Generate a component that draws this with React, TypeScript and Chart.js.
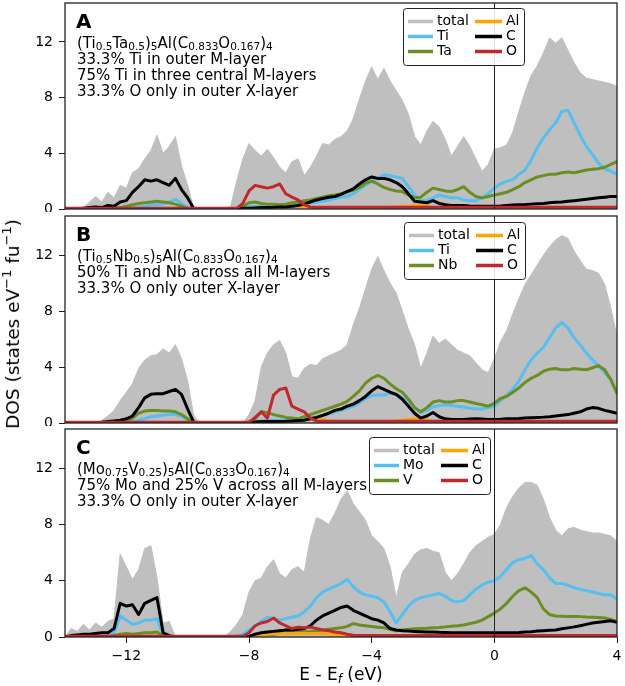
import React, { useEffect, useRef } from "react";
import { Chart, registerables } from "chart.js";

Chart.register(...registerables);

const FONT = "'DejaVu Sans', sans-serif";

// Energy grid, E - Ef in eV (0.2 eV steps from -14 to 4)
const energy: number[] = Array.from({ length: 91 }, (_, i) => Math.round((-14 + 0.2 * i) * 10) / 10);

const xTicks = [-12, -8, -4, 0, 4];
const yTicks = [0, 4, 8, 12];
const yMax = 14.8;

// ---------- Panel A: (Ti0.5Ta0.5)5Al(C0.833O0.167)4 ----------
const totalA = [
  0, 0, 0, 0.1, 0.5, 0.9, 0.5, 1.2, 0.8, 1.7,
  1.5, 2.6, 2.9, 3.6, 4.2, 5.3, 4.0, 4.5, 5.2, 3.1,
  1.7, 0, 0, 0, 0, 0, 0, 0.2, 2.0, 3.6,
  4.7, 4.2, 3.8, 4.3, 3.7, 3.0, 2.6, 3.4, 3.6, 2.4,
  3.0, 3.8, 4.7, 4.6, 5.0, 5.2, 5.6, 6.5, 7.9, 9.2,
  10.2, 9.3, 10.1, 9.2, 8.5, 7.8, 6.8, 5.2, 4.6, 5.6,
  6.3, 5.9, 5.0, 3.8, 4.5, 5.2, 4.5, 3.6, 2.7, 3.2,
  4.3, 4.4, 4.6, 5.5, 7.0, 8.4, 9.6, 10.3, 11.2, 12.3,
  11.9, 12.3, 11.4, 10.5, 9.8, 9.4, 9.3, 9.2, 9.1, 9.0,
  8.8,
];
const tiA = [
  0, 0, 0, 0, 0, 0, 0, 0, 0, 0.02,
  0.05, 0.1, 0.15, 0.2, 0.3, 0.3, 0.35, 0.5, 0.7, 0.4,
  0.1, 0, 0, 0, 0, 0, 0, 0, 0.05, 0.1,
  0.2, 0.2, 0.2, 0.2, 0.2, 0.25, 0.3, 0.3, 0.35, 0.4,
  0.45, 0.5, 0.55, 0.65, 0.75, 0.85, 0.9, 1.1, 1.4, 1.7,
  2.0, 2.2, 2.45, 2.4, 2.3, 2.2, 1.6, 1.0, 0.6, 0.6,
  0.8, 1.0, 0.9, 0.8, 0.8, 0.65, 0.6, 0.6, 0.8, 1.1,
  1.5, 1.8, 2.0, 2.1, 2.5, 2.8, 3.5, 4.4, 5.1, 5.7,
  6.2, 7.0, 7.1, 6.2, 5.3, 4.5, 3.9, 3.3, 2.9, 2.7,
  2.5,
];
const taA = [
  0, 0, 0, 0, 0, 0, 0, 0, 0.05, 0.1,
  0.2, 0.3, 0.4, 0.45, 0.5, 0.55, 0.5, 0.45, 0.35, 0.2,
  0.05, 0, 0, 0, 0, 0, 0, 0, 0.05, 0.2,
  0.45, 0.5, 0.4, 0.35, 0.35, 0.3, 0.35, 0.45, 0.5, 0.6,
  0.65, 0.75, 0.85, 0.95, 1.0, 1.1, 1.25, 1.35, 1.55, 1.85,
  2.0, 1.8, 1.55, 1.4, 1.3, 1.25, 1.0, 0.8, 0.85, 1.2,
  1.5, 1.4, 1.3, 1.25, 1.4, 1.6, 1.2, 0.9, 0.8, 0.9,
  1.0, 1.1, 1.2, 1.4, 1.6, 1.9, 2.1, 2.3, 2.4, 2.5,
  2.5, 2.6, 2.65, 2.6, 2.7, 2.8, 2.85, 2.9, 3.0, 3.2,
  3.4,
];
const alA = [
  0, 0, 0, 0.02, 0.02, 0.02, 0.02, 0.02, 0.02, 0.02,
  0.02, 0.03, 0.03, 0.03, 0.03, 0.03, 0.03, 0.03, 0.03, 0.02,
  0.02, 0, 0, 0, 0, 0, 0, 0, 0.02, 0.03,
  0.05, 0.05, 0.05, 0.06, 0.08, 0.1, 0.15, 0.2, 0.2, 0.15,
  0.1, 0.08, 0.08, 0.08, 0.08, 0.1, 0.1, 0.1, 0.1, 0.1,
  0.1, 0.1, 0.1, 0.12, 0.15, 0.18, 0.2, 0.25, 0.25, 0.2,
  0.1, 0.08, 0.06, 0.05, 0.05, 0.05, 0.05, 0.05, 0.05, 0.05,
  0.05, 0.05, 0.05, 0.05, 0.05, 0.05, 0.05, 0.05, 0.05, 0.05,
  0.05, 0.05, 0.05, 0.05, 0.05, 0.05, 0.05, 0.05, 0.05, 0.05,
  0.05,
];
const cA = [
  0, 0, 0, 0.05, 0.1, 0.15, 0.1, 0.25, 0.2, 0.5,
  0.6, 1.2, 1.6, 2.1, 2.0, 2.1, 1.9, 1.7, 2.2, 1.4,
  0.8, 0.02, 0, 0, 0, 0, 0, 0.02, 0.03, 0.05,
  0.05, 0.08, 0.1, 0.1, 0.12, 0.15, 0.15, 0.2, 0.25, 0.35,
  0.5, 0.65, 0.75, 0.85, 0.9, 1.05, 1.25, 1.45, 1.8, 2.1,
  2.3, 2.2, 2.2, 2.1, 1.9, 1.6, 1.1, 0.55, 0.5, 0.45,
  0.6, 0.4, 0.3, 0.25, 0.25, 0.25, 0.22, 0.2, 0.2, 0.2,
  0.2, 0.22, 0.25, 0.28, 0.3, 0.32, 0.35, 0.38, 0.4, 0.45,
  0.48, 0.5, 0.55, 0.6, 0.65, 0.7, 0.75, 0.8, 0.85, 0.9,
  0.9,
];
const oA = [
  0.05, 0.05, 0.05, 0.05, 0.05, 0.05, 0.05, 0.05, 0.05, 0.05,
  0.05, 0.05, 0.05, 0.05, 0.05, 0.05, 0.05, 0.05, 0.05, 0.05,
  0.05, 0.05, 0.05, 0.05, 0.05, 0.05, 0.05, 0.05, 0.05, 0.4,
  1.3, 1.7, 1.6, 1.5, 1.6, 1.8, 1.1, 0.85, 0.65, 0.3,
  0.15, 0.12, 0.12, 0.12, 0.12, 0.12, 0.12, 0.12, 0.12, 0.12,
  0.12, 0.12, 0.12, 0.12, 0.12, 0.12, 0.12, 0.12, 0.12, 0.12,
  0.12, 0.12, 0.12, 0.12, 0.12, 0.12, 0.12, 0.12, 0.12, 0.12,
  0.12, 0.12, 0.12, 0.12, 0.12, 0.12, 0.12, 0.12, 0.12, 0.12,
  0.12, 0.12, 0.12, 0.12, 0.12, 0.12, 0.12, 0.12, 0.12, 0.12,
  0.12,
];

// ---------- Panel B: (Ti0.5Nb0.5)5Al(C0.833O0.167)4 ----------
const totalB = [
  0, 0, 0, 0, 0, 0, 0.2, 0.5, 0.9, 1.6,
  2.2, 2.8, 3.9, 4.5, 4.8, 4.9, 5.3, 5.0, 5.6, 4.6,
  3.0, 0.5, 0, 0, 0, 0, 0, 0, 0, 0,
  0.6, 1.6, 4.0, 5.0, 5.6, 5.9, 5.0, 3.3, 3.2, 3.9,
  4.2, 4.1, 4.6, 4.8, 5.0, 5.2, 5.6, 7.0, 8.2, 9.6,
  11.0, 11.9, 10.9, 10.0, 9.3, 8.0, 6.7, 5.6, 3.9, 5.0,
  6.2, 5.7, 6.0, 5.6, 5.2, 5.0, 4.8, 4.3, 3.8, 3.6,
  4.6, 5.8, 6.6, 7.8, 8.9, 9.9, 10.6, 11.3, 12.0, 12.6,
  13.1, 13.4, 13.2, 12.3, 11.6, 11.0, 10.9, 10.7, 9.9, 8.2,
  6.2,
];
const tiB = [
  0, 0, 0, 0, 0, 0, 0, 0, 0, 0,
  0.05, 0.1, 0.2, 0.3, 0.45, 0.5, 0.55, 0.6, 0.6, 0.5,
  0.2, 0, 0, 0, 0, 0, 0, 0, 0, 0,
  0.05, 0.1, 0.15, 0.2, 0.2, 0.2, 0.2, 0.25, 0.3, 0.3,
  0.35, 0.4, 0.5, 0.65, 0.8, 0.9, 1.05, 1.2, 1.45, 1.75,
  1.95, 2.0, 2.0, 2.15, 2.05, 1.8, 1.5, 1.1, 0.75, 0.9,
  1.15, 1.25, 1.3, 1.25, 1.2, 1.15, 1.05, 1.0, 1.0, 1.1,
  1.2, 1.6, 2.0, 2.4, 3.0, 3.8, 4.5, 5.0, 5.4, 6.1,
  6.8, 7.2, 6.8, 6.1, 5.6, 5.0, 4.5, 4.1, 3.6, 3.1,
  2.2,
];
const nbB = [
  0, 0, 0, 0, 0, 0, 0, 0, 0, 0.05,
  0.15, 0.35, 0.7, 0.85, 0.9, 0.9, 0.85, 0.85, 0.8, 0.6,
  0.3, 0, 0, 0, 0, 0, 0, 0, 0, 0,
  0.05, 0.3, 0.8, 0.75, 0.6, 0.5, 0.4, 0.35, 0.3, 0.45,
  0.6, 0.75, 0.9, 1.05, 1.2, 1.35, 1.55, 1.9, 2.3, 2.85,
  3.2, 3.4, 3.2, 2.8, 2.45, 2.2, 1.7, 1.1, 0.8, 1.1,
  1.5, 1.6, 1.5, 1.5, 1.6, 1.6, 1.5, 1.4, 1.3, 1.2,
  1.4, 1.75, 1.9, 2.2, 2.5, 2.9, 3.2, 3.4, 3.7, 3.85,
  3.9, 3.8, 3.8, 3.9, 3.85, 3.8, 3.95, 4.1, 3.8, 3.1,
  2.1,
];
const alB = [
  0, 0, 0, 0, 0, 0, 0.02, 0.02, 0.02, 0.02,
  0.02, 0.03, 0.03, 0.03, 0.03, 0.03, 0.03, 0.03, 0.03, 0.02,
  0.02, 0, 0, 0, 0, 0, 0, 0, 0, 0,
  0.03, 0.04, 0.05, 0.05, 0.06, 0.08, 0.1, 0.12, 0.15, 0.2,
  0.25, 0.3, 0.25, 0.15, 0.1, 0.1, 0.1, 0.1, 0.1, 0.1,
  0.1, 0.1, 0.1, 0.12, 0.15, 0.2, 0.25, 0.3, 0.28, 0.2,
  0.1, 0.08, 0.06, 0.05, 0.05, 0.05, 0.05, 0.05, 0.05, 0.05,
  0.05, 0.05, 0.05, 0.05, 0.05, 0.05, 0.05, 0.05, 0.05, 0.05,
  0.05, 0.05, 0.05, 0.05, 0.05, 0.05, 0.05, 0.05, 0.05, 0.05,
  0.05,
];
const cB = [
  0, 0, 0, 0, 0, 0.02, 0.05, 0.1, 0.15, 0.2,
  0.3, 0.5, 1.1, 1.8, 2.05, 2.1, 2.1, 2.25, 2.4, 2.05,
  1.0, 0.05, 0, 0, 0, 0, 0, 0, 0, 0,
  0.05, 0.08, 0.1, 0.1, 0.1, 0.1, 0.12, 0.15, 0.18, 0.2,
  0.3, 0.4, 0.55, 0.7, 0.9, 1.0, 1.2, 1.35, 1.6, 1.9,
  2.3, 2.6, 2.4, 2.2, 2.05, 1.7, 1.2, 0.7, 0.35, 0.5,
  0.75, 0.45, 0.3, 0.25, 0.25, 0.25, 0.28, 0.3, 0.28, 0.25,
  0.25, 0.27, 0.3, 0.3, 0.32, 0.35, 0.38, 0.4, 0.42, 0.45,
  0.5, 0.55, 0.6, 0.7, 0.8, 1.0, 1.1, 1.05, 0.9, 0.8,
  0.7,
];
const oB = [
  0.05, 0.05, 0.05, 0.05, 0.05, 0.05, 0.05, 0.05, 0.05, 0.05,
  0.05, 0.05, 0.05, 0.05, 0.05, 0.05, 0.05, 0.05, 0.05, 0.05,
  0.05, 0.05, 0.05, 0.05, 0.05, 0.05, 0.05, 0.05, 0.05, 0.05,
  0.05, 0.4, 0.8, 0.35, 2.0, 2.4, 2.5, 1.2, 1.0, 0.8,
  0.35, 0.15, 0.12, 0.12, 0.12, 0.12, 0.12, 0.12, 0.12, 0.12,
  0.12, 0.12, 0.12, 0.12, 0.12, 0.12, 0.12, 0.12, 0.12, 0.12,
  0.12, 0.12, 0.12, 0.12, 0.12, 0.12, 0.12, 0.12, 0.12, 0.12,
  0.12, 0.12, 0.12, 0.12, 0.12, 0.12, 0.12, 0.12, 0.12, 0.12,
  0.12, 0.12, 0.12, 0.12, 0.12, 0.12, 0.12, 0.12, 0.12, 0.12,
  0.12,
];

// ---------- Panel C: (Mo0.75V0.25)5Al(C0.833O0.167)4 ----------
const totalC = [
  0, 0.6, 0.4, 0.9, 0.5, 1.0, 0.7, 1.1, 1.3, 5.9,
  5.0, 4.1, 4.8, 6.3, 6.5, 4.2, 1.0, 1.1, 0, 0,
  0, 0, 0, 0, 0, 0, 0, 0.4, 0.9, 1.6,
  3.2, 4.0, 4.2, 5.0, 5.5, 4.5, 4.2, 4.8, 5.0, 4.6,
  7.0, 8.5, 8.3, 8.0, 8.8, 9.8, 10.4, 9.5, 8.9, 8.3,
  7.2, 6.8, 6.3, 5.0, 2.8, 4.6, 5.2, 5.9, 6.2, 6.3,
  6.1, 6.0, 4.6, 4.0, 4.5, 5.2, 6.0, 6.5, 6.8, 7.1,
  7.3, 8.0, 9.2, 10.0, 10.6, 11.0, 11.0, 10.8, 9.8, 8.5,
  7.6, 7.2, 7.7, 7.8, 7.6, 7.5, 7.4, 7.4, 7.3, 7.2,
  6.8,
];
const moC = [
  0, 0, 0, 0, 0, 0, 0, 0.05, 0.3, 1.5,
  1.2, 0.9, 1.0, 1.2, 1.2, 1.3, 0.1, 0, 0, 0,
  0, 0, 0, 0, 0, 0, 0, 0, 0.05, 0.2,
  0.5, 0.8, 1.1, 1.4, 1.3, 1.2, 1.3, 1.4, 1.5, 1.8,
  2.2, 2.8, 3.2, 3.4, 3.6, 3.8, 4.1, 3.6, 3.2, 3.0,
  2.9, 2.8, 2.5, 1.8, 1.0, 1.6, 2.2, 2.6, 2.8, 2.9,
  3.0, 3.1, 2.9, 2.6, 2.5, 2.6, 3.0, 3.4, 3.7, 3.9,
  4.0, 4.3, 4.8, 5.3, 5.5, 5.6, 5.8, 5.2, 4.8, 4.2,
  3.8, 3.8, 3.7, 3.5, 3.4, 3.3, 3.2, 3.1, 3.0, 3.0,
  2.7,
];
const vC = [
  0, 0, 0, 0, 0, 0, 0, 0.02, 0.1, 0.2,
  0.25, 0.2, 0.25, 0.3, 0.3, 0.35, 0.05, 0, 0, 0,
  0, 0, 0, 0, 0, 0, 0, 0, 0, 0.02,
  0.05, 0.1, 0.15, 0.18, 0.2, 0.25, 0.3, 0.32, 0.35, 0.38,
  0.4, 0.45, 0.5, 0.55, 0.6, 0.65, 0.75, 0.95, 0.85, 0.8,
  0.75, 0.7, 0.65, 0.55, 0.45, 0.5, 0.55, 0.58, 0.6, 0.62,
  0.65, 0.68, 0.72, 0.76, 0.8, 0.85, 0.95, 1.05, 1.2, 1.45,
  1.7, 2.0, 2.4, 2.9, 3.3, 3.5, 3.2, 2.8, 2.0, 1.6,
  1.5, 1.48, 1.45, 1.45, 1.45, 1.42, 1.4, 1.38, 1.35, 1.25,
  1.1,
];
const alC = [
  0, 0, 0, 0, 0, 0, 0, 0.02, 0.02, 0.03,
  0.03, 0.03, 0.03, 0.03, 0.03, 0.03, 0.02, 0, 0, 0,
  0, 0, 0, 0, 0, 0, 0, 0, 0, 0.02,
  0.05, 0.1, 0.15, 0.2, 0.25, 0.25, 0.25, 0.25, 0.25, 0.25,
  0.25, 0.25, 0.25, 0.22, 0.2, 0.15, 0.1, 0.08, 0.06, 0.06,
  0.06, 0.06, 0.06, 0.06, 0.06, 0.06, 0.06, 0.06, 0.06, 0.06,
  0.06, 0.06, 0.06, 0.06, 0.06, 0.06, 0.06, 0.06, 0.06, 0.06,
  0.06, 0.06, 0.06, 0.06, 0.06, 0.06, 0.06, 0.06, 0.06, 0.06,
  0.06, 0.06, 0.06, 0.06, 0.06, 0.06, 0.06, 0.06, 0.06, 0.06,
  0.06,
];
const cC = [
  0, 0.1, 0.15, 0.2, 0.2, 0.25, 0.3, 0.3, 0.6, 2.4,
  2.2, 2.3, 1.6, 2.4, 2.6, 2.8, 0.3, 0.1, 0, 0,
  0, 0, 0, 0, 0, 0, 0, 0, 0, 0.02,
  0.05, 0.2, 0.3, 0.35, 0.4, 0.45, 0.5, 0.5, 0.55, 0.6,
  0.8, 1.2, 1.5, 1.7, 1.9, 2.1, 2.2, 1.9, 1.7, 1.5,
  1.3, 1.2, 1.0, 0.6, 0.5, 0.45, 0.42, 0.4, 0.38, 0.36,
  0.35, 0.33, 0.32, 0.3, 0.3, 0.3, 0.3, 0.3, 0.3, 0.3,
  0.3, 0.3, 0.3, 0.3, 0.32, 0.35, 0.38, 0.42, 0.45, 0.48,
  0.5, 0.58, 0.65, 0.72, 0.8, 0.9, 1.0, 1.05, 1.1, 1.15,
  1.05,
];
const oC = [
  0.05, 0.05, 0.05, 0.05, 0.05, 0.05, 0.05, 0.05, 0.05, 0.05,
  0.05, 0.05, 0.05, 0.05, 0.05, 0.05, 0.05, 0.05, 0.05, 0.05,
  0.05, 0.05, 0.05, 0.05, 0.05, 0.05, 0.05, 0.05, 0.05, 0.05,
  0.3, 0.8, 1.0, 1.1, 1.35, 1.0, 0.8, 0.6, 0.7, 0.65,
  0.7, 0.6, 0.5, 0.45, 0.35, 0.3, 0.2, 0.12, 0.1, 0.1,
  0.1, 0.1, 0.1, 0.1, 0.1, 0.1, 0.1, 0.1, 0.1, 0.1,
  0.1, 0.1, 0.1, 0.1, 0.1, 0.1, 0.1, 0.1, 0.1, 0.1,
  0.1, 0.1, 0.1, 0.1, 0.1, 0.1, 0.1, 0.1, 0.1, 0.1,
  0.1, 0.1, 0.1, 0.1, 0.1, 0.1, 0.1, 0.1, 0.1, 0.1,
  0.1,
];

// Series colours: total, metal 1, metal 2, Al, C, O
const seriesColors = ["#bfbfbf", "#55bff0", "#6b8e23", "#ffa500", "#000000", "#c1272d"];

type Seg = [string, boolean];

const formulaA: Seg[] = [["(Ti", false], ["0.5", true], ["Ta", false], ["0.5", true], [")", false], ["5", true], ["Al(C", false], ["0.833", true], ["O", false], ["0.167", true], [")", false], ["4", true]];
const formulaB: Seg[] = [["(Ti", false], ["0.5", true], ["Nb", false], ["0.5", true], [")", false], ["5", true], ["Al(C", false], ["0.833", true], ["O", false], ["0.167", true], [")", false], ["4", true]];
const formulaC: Seg[] = [["(Mo", false], ["0.75", true], ["V", false], ["0.25", true], [")", false], ["5", true], ["Al(C", false], ["0.833", true], ["O", false], ["0.167", true], [")", false], ["4", true]];

const notesA = ["33.3% Ti in outer M-layer", "75% Ti in three central M-layers", "33.3% O only in outer X-layer"];
const notesB = ["50% Ti and Nb across all M-layers", "33.3% O only outer X-layer"];
const notesC = ["75% Mo and 25% V across all M-layers", "33.3% O only in outer X-layer"];

const labelsA = ["total", "Ti", "Ta", "Al", "C", "O"];
const labelsB = ["total", "Ti", "Nb", "Al", "C", "O"];
const labelsC = ["total", "Mo", "V", "Al", "C", "O"];

interface PanelDef {
  letter: string;
  formula: Seg[];
  notes: string[];
  labels: string[];
  series: number[][];
  legendX: number;
  legendY: number;
  top: number;
  height: number;
  showX: boolean;
}

const panels: PanelDef[] = [
  { letter: "A", formula: formulaA, notes: notesA, labels: labelsA, series: [totalA, tiA, taA, alA, cA, oA], legendX: 403, legendY: 5, top: 0, height: 212, showX: false },
  { letter: "B", formula: formulaB, notes: notesB, labels: labelsB, series: [totalB, tiB, nbB, alB, cB, oB], legendX: 404, legendY: 6, top: 213, height: 213, showX: false },
  { letter: "C", formula: formulaC, notes: notesC, labels: labelsC, series: [totalC, moC, vC, alC, cC, oC], legendX: 369, legendY: 8, top: 426, height: 260, showX: true },
];

const decorPlugin = {
  id: "decor",
  afterDatasetsDraw(chart: any, _args: any, opts: any) {
    const p: PanelDef = opts.panel;
    const { ctx, chartArea: a, scales } = chart;
    ctx.save();

    // Fermi level
    const x0 = Math.round(scales.x.getPixelForValue(0)) + 0.5;
    ctx.strokeStyle = "#222";
    ctx.lineWidth = 1;
    ctx.beginPath();
    ctx.moveTo(x0, a.top);
    ctx.lineTo(x0, a.bottom);
    ctx.stroke();

    // axes frame
    ctx.strokeStyle = "#222";
    ctx.lineWidth = 1.3;
    ctx.strokeRect(a.left, a.top, a.right - a.left, a.bottom - a.top);

    // panel letter and composition notes
    const tx = 77;
    ctx.fillStyle = "#000";
    ctx.textBaseline = "middle";
    ctx.textAlign = "left";
    ctx.font = `bold 20px ${FONT}`;
    ctx.fillText(p.letter, tx - 1, a.top + 20);

    let cx = tx;
    const fy = a.top + 41;
    for (const [t, sub] of p.formula) {
      ctx.font = sub ? `10.5px ${FONT}` : `15px ${FONT}`;
      ctx.fillText(t, cx, sub ? fy + 3.5 : fy);
      cx += ctx.measureText(t).width;
    }
    ctx.font = `15px ${FONT}`;
    p.notes.forEach((n, i) => ctx.fillText(n, tx, a.top + 57 + 16 * i));

    // legend
    const bx = p.legendX;
    const by = a.top + p.legendY;
    const bw = 121;
    const bh = 57;
    ctx.beginPath();
    ctx.roundRect(bx + 0.5, by + 0.5, bw, bh, 3);
    ctx.fillStyle = "rgba(255,255,255,0.85)";
    ctx.fill();
    ctx.strokeStyle = "#222";
    ctx.lineWidth = 1;
    ctx.stroke();

    ctx.font = `14px ${FONT}`;
    ctx.lineWidth = 3.5;
    ctx.lineCap = "butt";
    p.labels.forEach((lab, i) => {
      const col = Math.floor(i / 3);
      const row = i % 3;
      const ly = by + 13.5 + 15 * row;
      const lx0 = col === 0 ? bx + 5 : bx + 72;
      const lx1 = col === 0 ? bx + 30 : bx + 99;
      ctx.strokeStyle = seriesColors[i];
      ctx.beginPath();
      ctx.moveTo(lx0, ly);
      ctx.lineTo(lx1, ly);
      ctx.stroke();
      ctx.fillStyle = "#000";
      ctx.fillText(lab, lx1 + 4, ly);
    });

    ctx.restore();
  },
};

function makeConfig(p: PanelDef): any {
  const datasets = p.series.map((vals, k) => ({
    label: p.labels[k],
    data: energy.map((e, i) => ({ x: e, y: vals[i] })),
    borderColor: seriesColors[k],
    backgroundColor: seriesColors[k],
    borderWidth: k === 0 ? 1 : 3,
    pointRadius: 0,
    tension: 0,
    fill: k === 0 ? "origin" : false,
    order: 6 - k,
    borderJoinStyle: "round",
  }));

  return {
    type: "line",
    data: { datasets },
    options: {
      responsive: false,
      animation: false,
      devicePixelRatio: 1,
      events: [],
      layout: { padding: { left: 0, right: 8, top: 3, bottom: p.showX ? 0 : 3 } },
      scales: {
        x: {
          type: "linear",
          min: -14,
          max: 4,
          display: p.showX,
          afterBuildTicks: (s: any) => {
            s.ticks = xTicks.map((v) => ({ value: v }));
          },
          afterFit: (s: any) => {
            s.height = p.showX ? 49 : 0;
            s.paddingLeft = 0;
            s.paddingRight = 0;
          },
          grid: { display: true, drawOnChartArea: false, drawTicks: true, tickLength: 6, color: "#222", lineWidth: 1 },
          border: { display: false },
          ticks: {
            color: "#000",
            padding: 5,
            maxRotation: 0,
            font: { family: FONT, size: 14 },
            callback: (v: number) => (v < 0 ? "\u2212" + Math.abs(v) : String(v)),
          },
        },
        y: {
          min: 0,
          max: yMax,
          afterBuildTicks: (s: any) => {
            s.ticks = yTicks.map((v) => ({ value: v }));
          },
          afterFit: (s: any) => {
            s.width = 65;
            s.paddingTop = 0;
            s.paddingBottom = 0;
          },
          grid: { display: true, drawOnChartArea: false, drawTicks: true, tickLength: 6, color: "#222", lineWidth: 1 },
          border: { display: false },
          ticks: {
            color: "#000",
            padding: 6,
            font: { family: FONT, size: 14 },
            callback: (v: number) => String(v),
          },
        },
      },
      plugins: {
        legend: { display: false },
        tooltip: { enabled: false },
        decor: { panel: p },
      },
    },
    plugins: [decorPlugin],
  };
}

function Panel({ p }: { p: PanelDef }) {
  const ref = useRef<HTMLCanvasElement>(null);
  useEffect(() => {
    if (!ref.current) return;
    const chart = new Chart(ref.current, makeConfig(p));
    return () => chart.destroy();
  }, [p]);
  return (
    <canvas
      ref={ref}
      width={625}
      height={p.height}
      style={{ position: "absolute", left: 0, top: p.top, width: 625, height: p.height }}
    />
  );
}

const supStyle: React.CSSProperties = { fontSize: 13, position: "relative", top: -8 };

export default function App() {
  return (
    <div style={{ position: "absolute", left: 0, top: 0, width: 625, height: 686, background: "#fff", overflow: "hidden" }}>
      {panels.map((p) => (
        <Panel key={p.letter} p={p} />
      ))}
      <div
        style={{
          position: "absolute",
          left: 14,
          top: 324,
          transform: "translate(-50%, -50%) rotate(-90deg)",
          whiteSpace: "nowrap",
          fontFamily: FONT,
          fontSize: 18.5,
          color: "#000",
          lineHeight: "22px",
        }}
      >
        DOS (states eV<span style={supStyle}>−1</span> fu<span style={supStyle}>−1</span>)
      </div>
      <div
        style={{
          position: "absolute",
          left: 341,
          top: 675,
          transform: "translate(-50%, -50%)",
          whiteSpace: "nowrap",
          fontFamily: FONT,
          fontSize: 17,
          color: "#000",
          lineHeight: "20px",
        }}
      >
        E - E<span style={{ fontSize: 12, fontStyle: "italic", position: "relative", top: 3 }}>f</span> (eV)
      </div>
    </div>
  );
}
